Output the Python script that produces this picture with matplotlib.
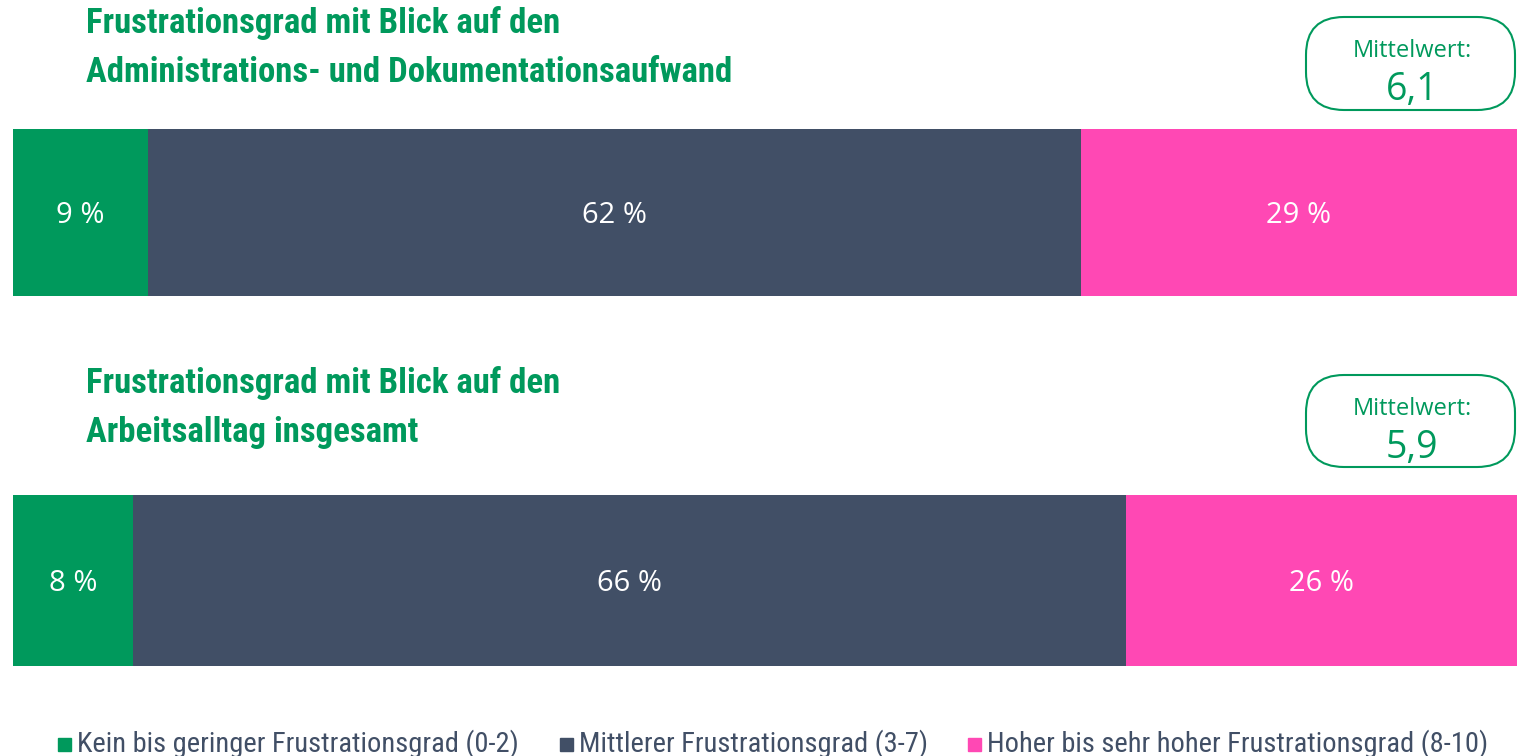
import matplotlib
matplotlib.use('Agg')
import matplotlib.pyplot as plt
from matplotlib.patches import FancyBboxPatch

W, H = 1517, 756

# data
titles = [['Frustrationsgrad mit Blick auf den', 'Administrations- und Dokumentationsaufwand'],
          ['Frustrationsgrad mit Blick auf den', 'Arbeitsalltag insgesamt']]
means = ['6,1', '5,9']
categories = ['Kein bis geringer Frustrationsgrad (0-2)',
              'Mittlerer Frustrationsgrad (3-7)',
              'Hoher bis sehr hoher Frustrationsgrad (8-10)']
shares = [[9, 62, 29],
          [8, 66, 26]]

colors = ['#00995C', '#414F66', '#FF48B4']
green = '#00995C'
cond = ['Roboto Condensed', 'DejaVu Sans']
sans = ['Open Sans', 'DejaVu Sans']

fig = plt.figure(figsize=(W / 100, H / 100), dpi=100)


def fx(px):
    return px / W


def fy(py):
    return 1 - py / H


# panel geometry in pixels: bar top, bar bottom, title baselines, box top/bottom
panels = [(129, 296, (33, 82), 17, 110),
          (495, 666, (393, 442), 375, 467)]

for k, (top, bot, bases, btop, bbot) in enumerate(panels):
    ax = fig.add_axes([fx(13), fy(bot), fx(W - 13), (bot - top) / H])
    left = 0
    for v, c in zip(shares[k], colors):
        ax.barh(0, v, left=left, height=1, color=c, edgecolor='none')
        ax.text(left + v / 2, -0.02, f'{v} %', ha='center', va='center',
                color='white', fontsize=21, family=sans)
        left += v
    ax.set_xlim(0, 100)
    ax.set_ylim(-0.5, 0.5)
    ax.axis('off')

    # title, two lines
    for line, b in zip(titles[k], bases):
        fig.text(fx(86), fy(b), line, ha='left', va='baseline',
                 color=green, fontsize=25, fontweight='bold', family=cond)

    # mean box
    box = FancyBboxPatch((fx(1306), fy(bbot)), fx(1515 - 1306), (bbot - btop) / H,
                         boxstyle='round,pad=0,rounding_size=0.025',
                         transform=fig.transFigure, facecolor='white',
                         edgecolor=green, lw=1.5, mutation_aspect=W / H)
    fig.patches.append(box)
    fig.text(fx(1412), fy(btop + 40), 'Mittelwert:', ha='center', va='baseline',
             color=green, fontsize=17, family=sans, fontweight='medium')
    fig.text(fx(1412), fy(btop + 83), means[k], ha='center', va='baseline',
             color=green, fontsize=27, family=sans, fontweight='medium')

# legend
leg_x = [58, 560, 968]
for x, lab, c in zip(leg_x, categories, colors):
    fig.patches.append(plt.Rectangle((fx(x), fy(751)), fx(13), 13 / H,
                                     transform=fig.transFigure, color=c))
    fig.text(fx(x + 19), fy(744), lab, ha='left', va='center',
             color='#414F66', fontsize=20.5, family=cond)

fig.savefig('out.png', dpi=100)
